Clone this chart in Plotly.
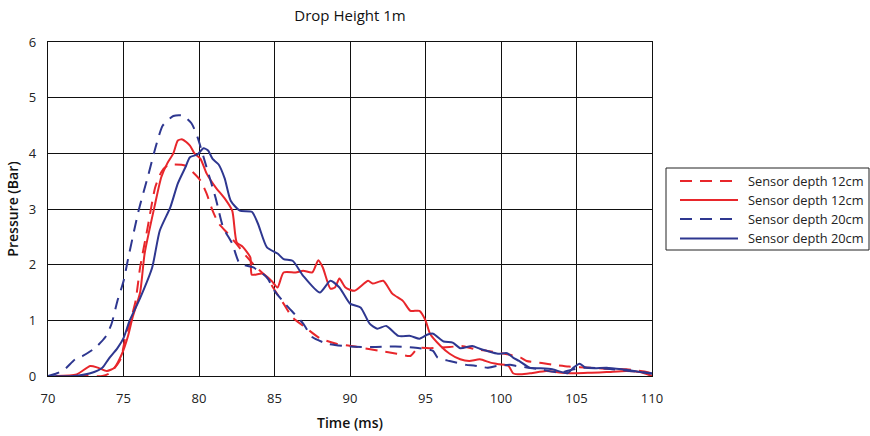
import plotly.graph_objects as go

# ---- data ----
time_12_dash = [71.9, 72.6, 73.6, 74.1, 74.8, 75.1, 75.4, 75.8, 76.1, 76.6, 77.1, 77.5, 77.9, 78.3, 79.1, 79.6,
                80.1, 80.5, 80.9, 81.3, 81.9, 82.4, 83.2, 83.8, 84.5, 84.9, 85.6, 86.2, 87.1, 88.0, 89.1, 90.5,
                92.0, 93.1, 94.0, 94.5, 95.3, 96.6, 97.4, 98.3, 99.1, 100.0, 100.6, 101.3, 101.7, 102.8, 103.5,
                104.5, 105.9, 107.0, 108.3, 109.5, 110.0]
press_12_dash = [0.0, 0.0, 0.0, 0.05, 0.3, 0.66, 0.93, 1.35, 1.95, 2.67, 3.39, 3.66, 3.78, 3.8, 3.78, 3.66,
                 3.51, 3.28, 2.97, 2.74, 2.56, 2.4, 2.13, 1.95, 1.77, 1.59, 1.3, 1.05, 0.86, 0.68, 0.58, 0.52,
                 0.45, 0.4, 0.36, 0.5, 0.5, 0.52, 0.54, 0.48, 0.45, 0.41, 0.38, 0.33, 0.27, 0.23, 0.2,
                 0.17, 0.15, 0.13, 0.12, 0.08, 0.05]

time_12_solid = [70.5, 71.9, 72.8, 73.3, 73.9, 74.4, 74.9, 75.3, 75.6, 76.1, 76.4, 77.1, 77.5, 77.9, 78.3, 78.6,
                 78.9, 79.4, 79.7, 80.1, 80.5, 81.1, 81.7, 82.2, 82.5, 82.9, 83.4, 83.5, 84.2, 84.8, 85.2, 85.6,
                 86.4, 86.9, 87.5, 87.9, 88.2, 88.7, 89.0, 89.3, 89.7, 90.3, 91.2, 91.5, 92.2, 92.8, 93.5, 94.0,
                 94.6, 95.0, 95.3, 96.0, 96.6, 97.3, 97.9, 98.6, 99.3, 99.9, 100.5, 100.8, 101.3, 102.0, 103.0,
                 104.0, 105.0, 106.0, 107.0, 108.3, 109.2, 110.0]
press_12_solid = [0.0, 0.03, 0.18, 0.15, 0.09, 0.15, 0.4, 0.72, 1.05, 1.5, 2.2, 3.1, 3.57, 3.82, 4.0, 4.23,
                  4.25, 4.14, 4.0, 3.9, 3.64, 3.39, 3.19, 2.97, 2.4, 2.32, 2.13, 1.82, 1.84, 1.71, 1.59, 1.86,
                  1.86, 1.89, 1.86, 2.08, 1.95, 1.57, 1.59, 1.75, 1.59, 1.53, 1.71, 1.66, 1.71, 1.48, 1.35, 1.17,
                  1.17, 1.0, 0.76, 0.54, 0.4, 0.3, 0.27, 0.3, 0.24, 0.21, 0.18, 0.05, 0.03, 0.05, 0.09,
                  0.06, 0.05, 0.06, 0.07, 0.09, 0.07, 0.0]

time_20_dash = [70.0, 70.6, 71.1, 71.8, 72.3, 73.1, 73.8, 74.2, 74.6, 75.0, 75.3, 76.0, 76.6, 77.2, 77.6, 78.3,
                78.9, 79.5, 79.9, 80.5, 81.1, 81.6, 82.2, 82.7, 83.6, 84.5, 85.0, 85.7, 86.9, 87.5, 88.5, 90.0,
                91.5, 93.0, 94.6, 95.5, 95.8, 96.6, 97.7, 98.2, 99.1, 99.7, 100.6, 101.0, 101.8, 102.6, 103.9,
                104.5, 105.5, 107.0, 108.5, 110.0]
press_20_dash = [0.0, 0.05, 0.12, 0.3, 0.36, 0.5, 0.7, 0.93, 1.35, 1.7, 2.1, 2.97, 3.57, 4.18, 4.5, 4.67,
                 4.68, 4.54, 4.29, 3.75, 3.2, 2.67, 2.38, 2.02, 1.95, 1.77, 1.53, 1.3, 0.94, 0.7, 0.58, 0.53,
                 0.52, 0.53, 0.5, 0.45, 0.33, 0.27, 0.2, 0.19, 0.15, 0.18, 0.2, 0.18, 0.15, 0.12, 0.06,
                 0.1, 0.15, 0.13, 0.09, 0.05]

time_20_solid = [70.0, 71.7, 72.8, 73.6, 74.0, 74.6, 75.0, 75.4, 76.1, 76.9, 77.4, 78.1, 78.6, 79.1, 79.4, 79.9,
                 80.3, 80.6, 80.9, 81.3, 81.7, 82.1, 82.7, 83.5, 83.9, 84.5, 85.2, 85.6, 86.2, 86.9, 88.0, 88.7,
                 89.3, 90.0, 90.7, 91.3, 91.8, 92.4, 93.2, 94.0, 94.6, 95.1, 95.5, 96.2, 96.8, 97.3, 98.1, 98.6,
                 99.1, 99.8, 100.4, 100.8, 101.2, 101.9, 102.6, 103.4, 104.4, 104.8, 105.2, 105.6, 106.2, 107.0,
                 108.0, 109.0, 110.0]
press_20_solid = [0.0, 0.0, 0.05, 0.15, 0.3, 0.5, 0.68, 0.99, 1.4, 1.95, 2.61, 3.03, 3.46, 3.75, 3.93, 3.98,
                  4.09, 4.05, 3.9, 3.8, 3.55, 3.15, 2.97, 2.95, 2.74, 2.31, 2.2, 2.1, 2.07, 1.8, 1.5, 1.71,
                  1.59, 1.3, 1.23, 0.94, 0.85, 0.9, 0.72, 0.72, 0.67, 0.74, 0.76, 0.62, 0.6, 0.5, 0.54, 0.49,
                  0.45, 0.4, 0.41, 0.33, 0.27, 0.15, 0.14, 0.12, 0.05, 0.15, 0.22, 0.15, 0.14, 0.15,
                  0.12, 0.08, 0.04]

series_names = ["Sensor depth 12cm", "Sensor depth 12cm", "Sensor depth 20cm", "Sensor depth 20cm"]
x_ticks = [70, 75, 80, 85, 90, 95, 100, 105, 110]
y_ticks = [0, 1, 2, 3, 4, 5, 6]

RED = "#e8262b"
BLUE = "#2e3790"
DASH = "12px,8px"
FONT = "Open Sans"

series = [
    (time_12_dash, press_12_dash, RED, DASH),
    (time_12_solid, press_12_solid, RED, "solid"),
    (time_20_dash, press_20_dash, BLUE, DASH),
    (time_20_solid, press_20_solid, BLUE, "solid"),
]

fig = go.Figure()
for (xs, ys, col, dash), name in zip(series, series_names):
    fig.add_trace(go.Scatter(x=xs, y=ys, mode="lines", name=name, showlegend=False,
                             line=dict(color=col, width=2, dash=dash, shape="spline", smoothing=0.6)))

# plot area geometry in pixels (for the hand-made legend)
L, R, T, B = 48, 652, 42, 376
W, H = 870, 436


def px_x(p):
    return (p - L) / (R - L)


def px_y(p):
    return (B - p) / (B - T)


shapes = [dict(type="rect", xref="paper", yref="paper",
               x0=px_x(666), x1=px_x(869), y0=px_y(250), y1=px_y(168),
               line=dict(color="#222", width=1), fillcolor="white", layer="above")]
annotations = []
rows = [181, 200, 219, 238.5]
for (xs, ys, col, dash), name, ry in zip(series, series_names, rows):
    shapes.append(dict(type="line", xref="paper", yref="paper",
                       x0=px_x(680), x1=px_x(738), y0=px_y(ry), y1=px_y(ry),
                       line=dict(color=col, width=2, dash=dash), layer="above"))
    annotations.append(dict(xref="paper", yref="paper", x=px_x(746), y=px_y(ry),
                            text=name, showarrow=False, xanchor="left", yanchor="middle",
                            font=dict(family=FONT, size=12.8, color="#222")))

fig.update_layout(
    width=W, height=H,
    margin=dict(l=L, r=W - R, t=T, b=H - B, pad=0, autoexpand=False),
    paper_bgcolor="white", plot_bgcolor="white",
    title=dict(text="Drop Height 1m", x=350 / W, xanchor="center", xref="container",
               y=1 - 16 / H, yanchor="middle", yref="container",
               font=dict(family=FONT, size=15, color="#111")),
    font=dict(family=FONT, size=13, color="#222"),
    shapes=shapes, annotations=annotations,
    showlegend=False,
)
fig.update_xaxes(range=[70, 110], tickvals=x_ticks, ticktext=[str(v) for v in x_ticks],
                 showgrid=True, gridcolor="#111", gridwidth=1.3, zeroline=False,
                 showline=True, linecolor="#111", linewidth=1.4, mirror=True, automargin=False,
                 ticks="", ticklabelstandoff=10,
                 title=dict(text="Time (ms)", standoff=12,
                            font=dict(family=FONT, size=14, color="#111", weight=600)))
fig.update_yaxes(range=[0, 6], tickvals=y_ticks, ticktext=[str(v) for v in y_ticks],
                 showgrid=True, gridcolor="#111", gridwidth=1.3, zeroline=False,
                 showline=True, linecolor="#111", linewidth=1.4, mirror=True, automargin=False,
                 ticks="", ticklabelstandoff=8,
                 title=dict(text="Pressure (Bar)", standoff=6,
                            font=dict(family=FONT, size=14, color="#111", weight=600)))

fig.write_html("out.html", config={"displayModeBar": False},
               post_script="document.body.style.margin='0';document.body.style.padding='0';")
